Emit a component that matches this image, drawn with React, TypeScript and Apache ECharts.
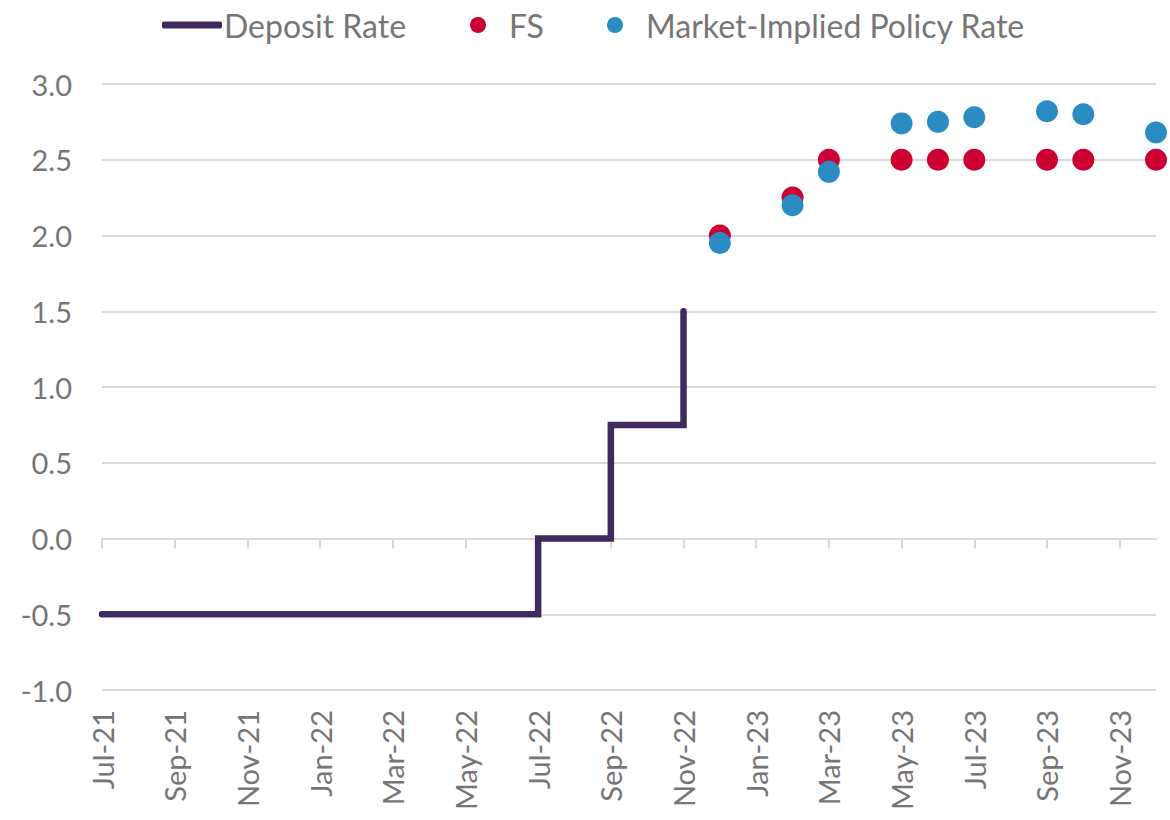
import React, { useEffect, useRef } from "react";
import * as echarts from "echarts";

const months = [
  "Jul-21", "Aug-21", "Sep-21", "Oct-21", "Nov-21", "Dec-21",
  "Jan-22", "Feb-22", "Mar-22", "Apr-22", "May-22", "Jun-22",
  "Jul-22", "Aug-22", "Sep-22", "Oct-22", "Nov-22", "Dec-22",
  "Jan-23", "Feb-23", "Mar-23", "Apr-23", "May-23", "Jun-23",
  "Jul-23", "Aug-23", "Sep-23", "Oct-23", "Nov-23", "Dec-23",
];

const depositRate: (number | null)[] = [
  -0.5, -0.5, -0.5, -0.5, -0.5, -0.5,
  -0.5, -0.5, -0.5, -0.5, -0.5, -0.5,
  0, 0, 0.75, 0.75, 1.5, null,
  null, null, null, null, null, null,
  null, null, null, null, null, null,
];

const fsRate: (number | null)[] = [
  null, null, null, null, null, null,
  null, null, null, null, null, null,
  null, null, null, null, null, 2.0,
  null, 2.25, 2.5, null, 2.5, 2.5,
  2.5, null, 2.5, 2.5, null, 2.5,
];

const marketRate: (number | null)[] = [
  null, null, null, null, null, null,
  null, null, null, null, null, null,
  null, null, null, null, null, 1.95,
  null, 2.2, 2.42, null, 2.74, 2.75,
  2.78, null, 2.82, 2.8, null, 2.68,
];

const PURPLE = "#3d2a5f";
const RED = "#cc0033";
const BLUE = "#2b8bc3";
const GREY = "#767676";
const GRID = "#d9d9d9";
const FONT = "Lato";

// Build step path: the rate changes at the month where a new value appears.
function stepPath(labels: string[], values: (number | null)[]) {
  const out: [string, number][] = [];
  let prev: number | null = null;
  for (let i = 0; i < values.length; i++) {
    const v = values[i];
    if (v == null) continue;
    if (prev != null && v !== prev) out.push([labels[i], prev]);
    out.push([labels[i], v]);
    prev = v;
  }
  return out;
}

export default function App() {
  const ref = useRef<HTMLDivElement>(null);
  useEffect(() => {
    if (!ref.current) return;
    const chart = echarts.init(ref.current, undefined, { renderer: "svg" });
    const legendText = { color: GREY, fontSize: 32, fontFamily: FONT };
    chart.setOption({
      animation: false,
      textStyle: { fontFamily: FONT },
      legend: [
        {
          data: [{ name: "Deposit Rate", icon: "roundRect" }],
          left: 157,
          top: 4,
          itemWidth: 60,
          itemHeight: 7,
          textStyle: { ...legendText, padding: [0, 0, 0, -3] },
        },
        {
          data: [{ name: "FS", icon: "circle" }],
          left: 465,
          top: 4,
          itemWidth: 16,
          itemHeight: 16,
          textStyle: { ...legendText, padding: [0, 0, 0, 18] },
        },
        {
          data: [{ name: "Market-Implied Policy Rate", icon: "circle" }],
          left: 602,
          top: 4,
          itemWidth: 16,
          itemHeight: 16,
          textStyle: { ...legendText, padding: [0, 0, 0, 18] },
        },
      ],
      grid: { left: 102, right: 14, top: 84, bottom: 130, containLabel: false },
      xAxis: [
        {
          type: "category",
          data: months,
          boundaryGap: false,
          position: "bottom",
          axisLine: { show: false, onZero: false },
          axisTick: { show: false },
          axisLabel: {
            rotate: 90,
            interval: 1,
            color: GREY,
            fontSize: 29,
            fontFamily: FONT,
            margin: 20,
          },
          splitLine: { show: false },
        },
        {
          type: "category",
          data: months,
          boundaryGap: false,
          position: "bottom",
          axisLine: { show: true, onZero: true, onZeroAxisIndex: 0, lineStyle: { color: GRID, width: 2 } },
          axisTick: { show: true, interval: 1, length: 10, inside: false, lineStyle: { color: GRID, width: 2 } },
          axisLabel: { show: false },
          splitLine: { show: false },
        },
      ],
      yAxis: {
        type: "value",
        min: -1,
        max: 3,
        interval: 0.5,
        axisLine: { show: false },
        axisTick: { show: false },
        axisLabel: {
          color: GREY,
          fontSize: 29,
          fontFamily: FONT,
          margin: 30,
          formatter: (v: number) => v.toFixed(1),
        },
        splitLine: { lineStyle: { color: GRID, width: 2 } },
      },
      series: [
        {
          name: "Deposit Rate",
          type: "line",
          xAxisIndex: 0,
          data: stepPath(months, depositRate),
          showSymbol: false,
          symbol: "none",
          color: PURPLE,
          lineStyle: { color: PURPLE, width: 6.5, cap: "round", join: "miter" },
        },
        {
          name: "FS",
          type: "scatter",
          xAxisIndex: 0,
          data: fsRate,
          symbol: "circle",
          symbolSize: 22,
          itemStyle: { color: RED, opacity: 1 },
        },
        {
          name: "Market-Implied Policy Rate",
          type: "scatter",
          xAxisIndex: 0,
          data: marketRate,
          symbol: "circle",
          symbolSize: 22,
          itemStyle: { color: BLUE, opacity: 1 },
        },
      ],
    });
    return () => chart.dispose();
  }, []);
  return (
    <div
      ref={ref}
      style={{ position: "fixed", left: 0, top: 0, width: 1170, height: 820, background: "#fff" }}
    />
  );
}
